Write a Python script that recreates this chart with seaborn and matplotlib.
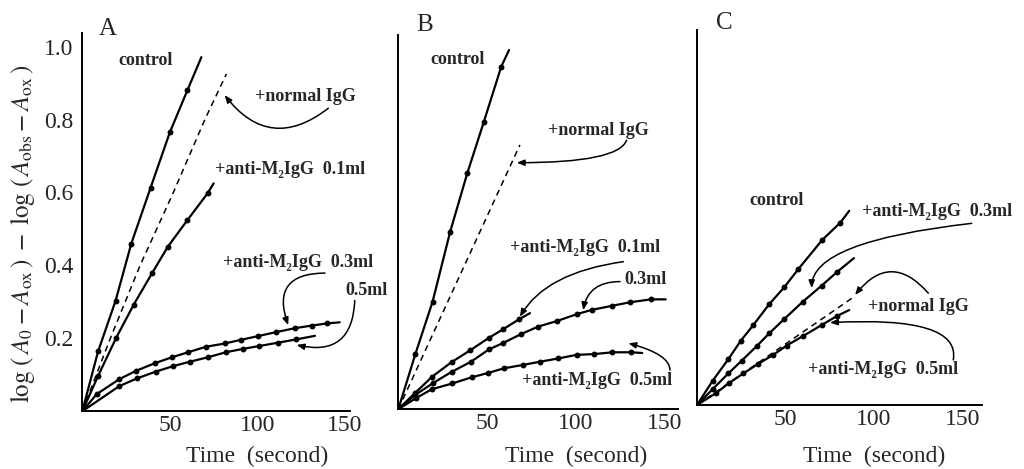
# Enzyme kinetics: log(A0-Aox) - log(Aobs-Aox) vs. time, three panels A/B/C

import matplotlib
matplotlib.use("Agg")
import matplotlib.pyplot as plt
import seaborn as sns

sns.set_style("white")
plt.rcParams["font.family"] = ["Liberation Serif", "DejaVu Serif"]
plt.rcParams["mathtext.fontset"] = "stix"

xticks = [50, 100, 150]
yticks = [0.2, 0.4, 0.6, 0.8, 1.0]

# ---- panel A ----
a_ctrl_t = [9, 19, 28, 39, 50, 60]
a_ctrl_y = [0.164, 0.303, 0.46, 0.613, 0.765, 0.88]
a_ctrl_end = (68, 0.971)
a_norm_t = [0, 16, 33, 52, 70, 82.3]
a_norm_y = [0, 0.2, 0.4, 0.6, 0.8, 0.925]
a_m01_t = [9, 19.4, 29.3, 40, 48.8, 60, 71.6]
a_m01_y = [0.097, 0.202, 0.292, 0.38, 0.451, 0.524, 0.598]
a_m01_end = (75, 0.625)
a_m03_t = [8.2, 21.1, 30.7, 41.5, 51.1, 60.5, 70.6, 81.5, 90.6, 100.2, 110.6, 121.5, 131, 140]
a_m03_y = [0.047, 0.088, 0.111, 0.132, 0.148, 0.162, 0.177, 0.186, 0.196, 0.206, 0.217, 0.228, 0.235, 0.241]
a_m03_end = (147, 0.244)
a_m05_t = [21.1, 31.1, 42.1, 52, 61.5, 71.6, 82.1, 91.6, 101.1, 111.6, 122]
a_m05_y = [0.069, 0.09, 0.109, 0.124, 0.136, 0.148, 0.162, 0.171, 0.179, 0.188, 0.197]
a_m05_end = (132.9, 0.207)

# ---- panel B ----
b_ctrl_t = [9.6, 19.3, 29.2, 38.8, 48, 57.9]
b_ctrl_y = [0.152, 0.297, 0.49, 0.651, 0.791, 0.945]
b_ctrl_end = (62.3, 0.991)
b_norm_t = [0, 68.4]
b_norm_y = [0, 0.729]
b_m01_t = [9.5, 19.1, 30, 40.3, 51, 59.1, 67.9]
b_m01_y = [0.045, 0.09, 0.13, 0.162, 0.197, 0.221, 0.248]
b_m01_end = (74.1, 0.265)
b_m03_t = [9.4, 19.5, 30, 40.9, 51, 59.1, 69, 78.7, 89.1, 100.3, 108.8, 120, 130.3, 142.1]
b_m03_y = [0.039, 0.072, 0.103, 0.131, 0.165, 0.183, 0.207, 0.228, 0.243, 0.262, 0.274, 0.285, 0.295, 0.303]
b_m03_end = (150.4, 0.303)
b_m05_t = [9.8, 18.8, 30.4, 41.3, 50.5, 59.6, 70, 79.7, 90, 100.3, 110.2, 120.4, 130.9]
b_m05_y = [0.03, 0.055, 0.071, 0.088, 0.1, 0.113, 0.122, 0.131, 0.14, 0.15, 0.152, 0.157, 0.157]
b_m05_end = (137.2, 0.155)

# ---- panel C ----
c_ctrl_t = [8.9, 17.7, 24.7, 31.8, 40.9, 49.2, 57.2, 70.8, 81]
c_ctrl_y = [0.068, 0.128, 0.179, 0.223, 0.282, 0.328, 0.379, 0.461, 0.509]
c_ctrl_end = (86, 0.542)
c_m03_t = [9, 17.7, 25.3, 34.1, 40.8, 49.3, 59.7, 70.4, 79.3]
c_m03_y = [0.045, 0.088, 0.124, 0.166, 0.2, 0.24, 0.288, 0.333, 0.372]
c_m03_end = (88.7, 0.41)
c_norm_t = [0, 89.3]
c_norm_y = [0, 0.304]
c_m05_t = [10.7, 18.3, 26.2, 34.3, 43.1, 50.7, 60.1, 70.4, 78.9]
c_m05_y = [0.033, 0.062, 0.088, 0.114, 0.14, 0.166, 0.193, 0.223, 0.248]
c_m05_end = (86, 0.265)

W, H = 1024, 469
fig = plt.figure(figsize=(W / 100, H / 100), dpi=100)


def make_axes(x0, y0, sx, sy, xmax, ymax):
    ax = fig.add_axes([x0 / W, (H - y0) / H, xmax * sx / W, ymax * sy / H])
    ax.set_xlim(0, xmax)
    ax.set_ylim(0, ymax)
    for s in ["top", "right"]:
        ax.spines[s].set_visible(False)
    for s in ["left", "bottom"]:
        ax.spines[s].set_linewidth(1.4)
        ax.spines[s].set_color("black")
    ax.set_xticks(xticks)
    ax.set_yticks(yticks)
    ax.tick_params(axis="x", direction="in", length=5, width=1, pad=3, labelsize=17)
    ax.set_facecolor("white")
    return ax


def curve(ax, t, y, end):
    xs = [0] + t + [end[0]]
    ys = [0] + y + [end[1]]
    sns.lineplot(x=xs, y=ys, ax=ax, color="black", linewidth=1.6, estimator=None, sort=False)
    sns.scatterplot(x=t, y=y, ax=ax, color="black", s=18, linewidth=0, zorder=3)


def dashed(ax, t, y):
    sns.lineplot(x=t, y=y, ax=ax, color="black", linewidth=1.1, linestyle=(0, (4, 3)),
                 estimator=None, sort=False)


def label(ax, x, y, s, ha="left"):
    ax.text(x, y, s, ha=ha, va="center", fontsize=13, fontweight="bold")


def arrow(ax, tail, head, cs):
    ax.annotate("", xy=head, xytext=tail, annotation_clip=False,
                arrowprops=dict(arrowstyle="-|>,head_length=0.45,head_width=0.18",
                                color="black", lw=1.1, shrinkA=0, shrinkB=0,
                                connectionstyle=cs))


M2 = "+anti-M\u2082IgG  "

# panel A
axA = make_axes(82.3, 411.3, 1.751, 364.7, 152.9, 1.037)
axA.tick_params(axis="y", direction="inout", length=7, width=1, pad=3, labelsize=17)
axA.set_yticklabels(["0.2", "0.4", "0.6", "0.8", "1.0"])
curve(axA, a_ctrl_t, a_ctrl_y, a_ctrl_end)
dashed(axA, a_norm_t, a_norm_y)
curve(axA, a_m01_t, a_m01_y, a_m01_end)
curve(axA, a_m03_t, a_m03_y, a_m03_end)
curve(axA, a_m05_t, a_m05_y, a_m05_end)
label(axA, 36, 0.963, "control", ha="center")
label(axA, 98.6, 0.862, "+normal IgG")
label(axA, 75.8, 0.662, M2 + "0.1ml")
label(axA, 80.4, 0.409, M2 + "0.3ml")
label(axA, 150.5, 0.33, "0.5ml")
arrow(axA, (140.5, 0.831), (81.3, 0.867), "arc3,rad=-0.5")
arrow(axA, (138.6, 0.379), (117.6, 0.236), "arc3,rad=0.7")
arrow(axA, (155.6, 0.304), (122.4, 0.182), "arc3,rad=-0.6")

# panel B
axB = make_axes(398.3, 409.2, 1.778, 362.5, 157.3, 1.032)
axB.tick_params(axis="y", direction="in", length=5, width=1, labelleft=False)
curve(axB, b_ctrl_t, b_ctrl_y, b_ctrl_end)
dashed(axB, b_norm_t, b_norm_y)
curve(axB, b_m01_t, b_m01_y, b_m01_end)
curve(axB, b_m03_t, b_m03_y, b_m03_end)
curve(axB, b_m05_t, b_m05_y, b_m05_end)
label(axB, 33.6, 0.966, "control", ha="center")
label(axB, 84.2, 0.770, "+normal IgG")
label(axB, 62.8, 0.447, M2 + "0.1ml")
label(axB, 127.4, 0.357, "0.3ml")
label(axB, 69.6, 0.08, M2 + "0.5ml")
arrow(axB, (128.4, 0.742), (66.6, 0.68), "angle3,angleA=70,angleB=0")
arrow(axB, (126.6, 0.407), (68.4, 0.255), "angle3,angleA=8,angleB=60")
arrow(axB, (124.7, 0.352), (104, 0.273), "angle3,angleA=0,angleB=80")
arrow(axB, (152.8, 0.108), (129.4, 0.182), "angle3,angleA=90,angleB=-15")

# panel C
axC = make_axes(697, 405, 1.77, 358.3, 161, 1.047)
axC.tick_params(axis="y", direction="in", length=5, width=1, labelleft=False)
curve(axC, c_ctrl_t, c_ctrl_y, c_ctrl_end)
curve(axC, c_m03_t, c_m03_y, c_m03_end)
dashed(axC, c_norm_t, c_norm_y)
curve(axC, c_m05_t, c_m05_y, c_m05_end)
label(axC, 44.9, 0.572, "control", ha="center")
label(axC, 93.2, 0.539, M2 + "0.3ml")
label(axC, 96.6, 0.274, "+normal IgG")
label(axC, 62.7, 0.098, M2 + "0.5ml")
arrow(axC, (155.2, 0.507), (64.8, 0.326), "angle3,angleA=6.5,angleB=90")
arrow(axC, (130.7, 0.312), (89.3, 0.307), "arc3,rad=0.6")
arrow(axC, (144.8, 0.126), (75.1, 0.230), "angle3,angleA=80,angleB=3")

# axis titles and panel letters
for ax, y0, h in [(axA, 411.3, 1.037 * 364.7), (axB, 409.2, 1.032 * 362.5), (axC, 405, 1.047 * 358.3)]:
    ax.text(100, (y0 - 456) / h, "Time  (second)", transform=ax.get_xaxis_transform(),
            ha="center", va="center", fontsize=17)

fig.text(108 / W, 1 - 29 / H, "A", fontsize=18, ha="center", va="center")
fig.text(425 / W, 1 - 25 / H, "B", fontsize=18, ha="center", va="center")
fig.text(724 / W, 1 - 23 / H, "C", fontsize=18, ha="center", va="center")

fig.text(23 / W, 1 - 234 / H,
         r"$\log\,(\,A_0 - A_{\rm ox}\,)\;-\;\log\,(\,A_{\rm obs} - A_{\rm ox}\,)$",
         rotation=90, ha="center", va="center", fontsize=18)

fig.savefig("out.png", dpi=100, facecolor="white")
